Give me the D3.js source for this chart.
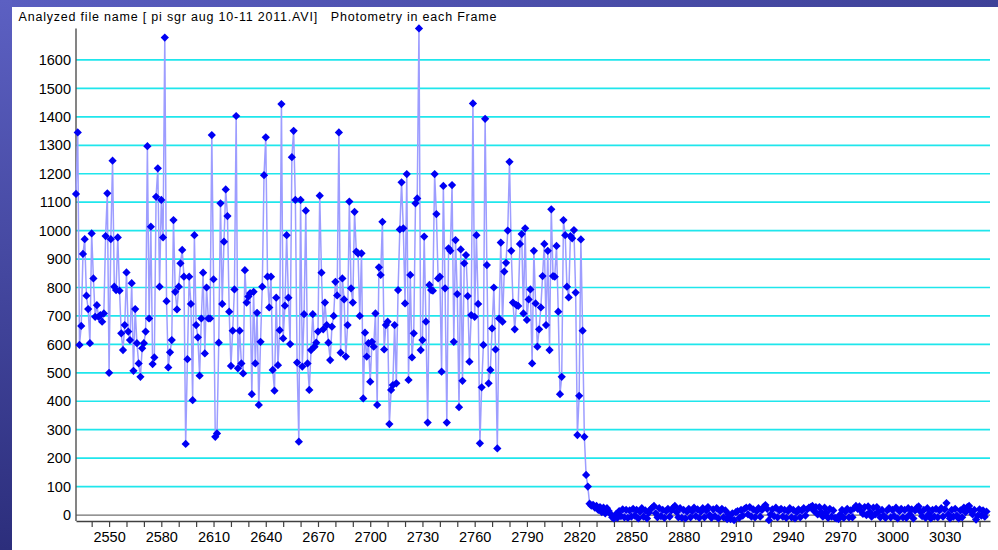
<!DOCTYPE html>
<html>
<head>
<meta charset="utf-8">
<script src="https://cdn.jsdelivr.net/npm/d3@7"></script>
<style>
    html, body { margin: 0; padding: 0; background: #ffffff; }
    svg { display: block; }
</style>
</head>
<body>
<div class="graph"></div>
<script>
// one photometry reading per video frame, first frame below
var firstFrame = 2531;

// star visible (frames 2531 - 2825)
var starOn = [
    1129, 1345, 598, 665, 918, 970, 771, 724, 604, 990, 832, 697, 738, 697, 703, 680, 709, 981, 1131, 500,
    970, 1246, 803, 791, 976, 789, 639, 580, 668, 853, 645, 615, 815, 507, 724, 604, 533, 486, 586, 604,
    645, 1297, 691, 1014, 531, 554, 1119, 1219, 803,
    1108, 976, 1679, 752, 519, 572, 615, 1037, 785, 723, 803, 885, 932, 838, 250, 548, 838, 742, 404, 984,
    668, 625, 490, 691, 852, 568, 800, 691, 691, 1336, 829, 275, 287, 606, 1096, 742, 961, 1145, 1051, 715,
    524, 648, 793, 1403, 516, 648, 533, 498, 861,
    747, 768, 780, 425, 785, 533, 711, 387, 609, 803, 1195, 1328, 838, 730, 838, 510, 437, 764, 527, 650,
    1445, 621, 736, 984, 764, 601, 1258, 1351, 1108, 536, 258, 1108, 522, 706, 1070, 533, 440, 580, 706, 592,
    606, 645, 1123, 852, 653, 747, 668, 606, 545, 662,
    700, 820, 772, 1345, 571, 832, 758, 557, 668, 1102, 797, 747, 1066, 926, 920, 700, 920, 410, 641, 557,
    604, 469, 609, 592, 709, 387, 871, 844, 1031, 582, 668, 680, 320, 440, 457, 668, 463, 791, 1004, 1170,
    1008, 744, 1199, 475, 844, 554, 639, 1096, 1113, 1711,
    580, 615, 979, 680, 325, 809, 791, 789, 1199, 1058, 832, 838, 504, 1157, 797, 325, 938, 929, 1160, 609,
    967, 777, 379, 934, 472, 885, 914, 770, 539, 703, 1447, 697, 984, 742, 252, 449, 598, 1393, 879, 463,
    510, 656, 800, 582, 234, 691, 958, 680, 856,
    887, 1000, 1242, 929, 747, 653, 738, 735, 953, 988, 709, 1008, 686, 758, 793, 533, 929, 744, 592, 653,
    730, 840, 953, 668, 929, 580, 1075, 840, 838, 946, 715, 425, 486, 1037, 984, 803, 765, 981, 973, 1002,
    782, 281, 419, 969, 648, 275, 141, 100
];

// star occulted (frames 2826 - 3054)
var starOff = [
    40, 33, 36, 26, 32, 18, 28, 10, 26, 6,
    24, 14, 4, -8, -12, 2, -10, 14, -4, 20,
    -8, 18, -10, 16, -6, 22, -2, 18, -12, 12,
    24, -6, 16, -12, 8, 20, 26, 32, 6, -8,
    24, -4, 18, -10, 14, 22, -6, 16, 26, 32,
    10, -8, 24, -10, 18, -12, 12, 22, -8, 14,
    26, -4, 20, -10, 12, 24, -8, 16, 28, 0,
    -10, 20, -4, 24, -12, 14, 22, -8, 16, -14,
    2, -14, 6, -18, 10, 14, -10, 18, -2, 22,
    26, 2, 28, -6, 20, -8, 14, 24, -6, 18,
    28, 35, 22, -18, 2, 20, -4, 26, -8, 16,
    22, -6, 18, -10, 14, 24, -8, 18, -12, 10,
    20, -8, 16, 24, -2, 20, 26, 28, 32, 14,
    28, 2, 28, 10, -6, 26, 8, -10, 22, -6,
    16, -10, -12, -14, 2, 18, -10, 12, 22, -8,
    16, -8, 24, 32, 22, 30, 14, 4, 28, 0,
    30, 10, -6, 26, 2, 28, 12, -8, 18, -2,
    -10, 16, 24, -8, 18, -4, 26, -12, 14, 22,
    -8, 18, -10, 24, 2, 20, -12, 16, 26, 30,
    12, -4, 18, -10, 24, 4, -12, 18, -6, 22,
    -8, 16, 24, -6, 20, 42, 2, -12, 18, -6,
    22, -2, -12, 16, -8, 26, 10, 28, 32, 14,
    2, 18, -16, -2, 20, -2, 16, -6, 12
];

var yTicks = [0, 100, 200, 300, 400, 500, 600, 700, 800, 900, 1000, 1100, 1200, 1300, 1400, 1500, 1600];
var xLabels = [2550, 2580, 2610, 2640, 2670, 2700, 2730, 2760, 2790, 2820, 2850, 2880, 2910, 2940, 2970, 3000, 3030];
var xTicks = [2540, 2550, 2560, 2570, 2580, 2590, 2600, 2610, 2620, 2630, 2640, 2650, 2660, 2670, 2680, 2690,
    2700, 2710, 2720, 2730, 2740, 2750, 2760, 2770, 2780, 2790, 2800, 2810, 2820, 2830, 2840, 2850, 2860,
    2870, 2880, 2890, 2900, 2910, 2920, 2930, 2940, 2950, 2960, 2970, 2980, 2990, 3000, 3010, 3020, 3030,
    3040, 3050];

var loadChart = function () {
    const WIDTH = 998;
    const HEIGHT = 550;
    const LEFT = 76;
    const RIGHT = 990;
    const TOP = 28.4;
    const BOTTOM = 521;
    const FONT = "'Liberation Sans', Arial, sans-serif";

    var points = starOn.concat(starOff).map(function (v, i) {
        return {frame: firstFrame + i, value: v};
    });

    var xScale = d3.scaleLinear().domain([2531, 3056]).range([LEFT, RIGHT]);
    var yScale = d3.scaleLinear().domain([-21, 1711]).range([BOTTOM, TOP]);

    var svg = d3.select(".graph").append("svg")
        .attr("width", WIDTH)
        .attr("height", HEIGHT);

    var defs = svg.append("defs");
    var sideGrad = defs.append("linearGradient").attr("id", "side")
        .attr("x1", 0).attr("y1", 0).attr("x2", 0).attr("y2", 1);
    sideGrad.append("stop").attr("offset", "0%").attr("stop-color", "#5c60c2");
    sideGrad.append("stop").attr("offset", "100%").attr("stop-color", "#2c2e7c");
    var topGrad = defs.append("linearGradient").attr("id", "topbar")
        .attr("x1", 0).attr("y1", 0).attr("x2", 1).attr("y2", 0);
    topGrad.append("stop").attr("offset", "0%").attr("stop-color", "#5a5ec0");
    topGrad.append("stop").attr("offset", "100%").attr("stop-color", "#3e4198");

    svg.append("rect").attr("width", WIDTH).attr("height", HEIGHT).style("fill", "#ffffff");
    svg.append("rect").attr("width", WIDTH).attr("height", 7).style("fill", "url(#topbar)");
    svg.append("rect").attr("width", 12).attr("height", HEIGHT).style("fill", "url(#side)");

    svg.append("text")
        .attr("x", 18.5)
        .attr("y", 20.8)
        .attr("textLength", 478)
        .attr("lengthAdjust", "spacing")
        .style("white-space", "pre")
        .style("font-family", FONT)
        .style("font-size", "12.5px")
        .style("fill", "#000")
        .text("Analyzed file name [ pi sgr aug 10-11 2011.AVI]   Photometry in each Frame");

    // horizontal grid
    svg.append("g").selectAll("line")
        .data(yTicks)
        .enter().append("line")
        .attr("x1", LEFT).attr("x2", RIGHT)
        .attr("y1", function (d) { return yScale(d); })
        .attr("y2", function (d) { return yScale(d); })
        .style("stroke", function (d) { return d === 0 ? "#707070" : "#1fe6ec"; })
        .style("stroke-width", function (d) { return d === 0 ? 1.2 : 1.7; });

    var yAxis = d3.axisLeft(yScale).tickValues(yTicks).tickSize(0).tickPadding(5)
        .tickFormat(d3.format("d"));
    var yg = svg.append("g")
        .attr("transform", "translate(" + LEFT + ",0)")
        .call(yAxis);
    yg.select(".domain").remove();
    yg.selectAll("text").style("font-family", FONT).style("font-size", "14.5px").style("fill", "#000");

    var xAxis = d3.axisBottom(xScale).tickValues(xTicks).tickSize(6).tickSizeOuter(0).tickPadding(4.5)
        .tickFormat(function (d) { return xLabels.indexOf(d) >= 0 ? d : ""; });
    var xg = svg.append("g")
        .attr("transform", "translate(0," + BOTTOM + ")")
        .call(xAxis);
    xg.select(".domain").style("stroke", "#404040").style("stroke-width", 1.4);
    xg.selectAll(".tick line").style("stroke", "#404040").style("stroke-width", 1.2);
    xg.selectAll("text").style("font-family", FONT).style("font-size", "14.5px").style("fill", "#000");

    svg.append("line")
        .attr("x1", LEFT).attr("x2", LEFT)
        .attr("y1", TOP).attr("y2", BOTTOM)
        .style("stroke", "#505050")
        .style("stroke-width", 1.4);

    var line = d3.line()
        .x(function (d) { return xScale(d.frame); })
        .y(function (d) { return yScale(d.value); });

    svg.append("path")
        .datum(points)
        .attr("d", line)
        .style("fill", "none")
        .style("stroke", "#9d9dff")
        .style("stroke-width", 1.5);

    var diamond = d3.symbol().type(d3.symbolSquare).size(34);
    svg.append("g").selectAll("path")
        .data(points)
        .enter().append("path")
        .attr("d", diamond)
        .attr("transform", function (d) {
            return "translate(" + xScale(d.frame) + "," + yScale(d.value) + ") rotate(45)";
        })
        .style("fill", "#0000f4");
};

window.onload = loadChart;
</script>
</body>
</html>
